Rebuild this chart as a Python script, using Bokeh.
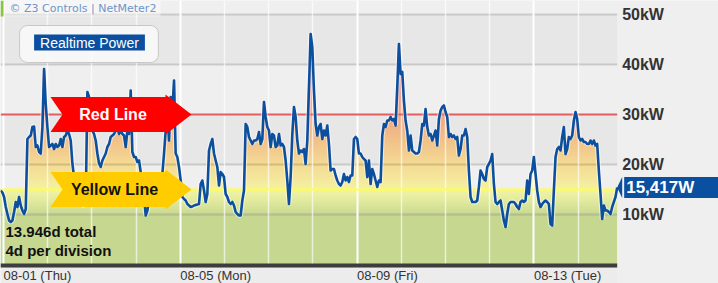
import numpy as np
from bokeh.plotting import figure
from bokeh.models import Range1d, Grid, FixedTicker
from bokeh.core.properties import value
from bokeh.embed import file_html
from bokeh.resources import INLINE

# ---------------- data ----------------
POWER_KW = [
    14.8, 14.4, 13.5, 11.5, 10.1, 8.8, 8.5, 8.8, 10.5, 12.5,
    11.5, 13.5, 11.8, 10.8, 10.1, 11.1, 25.1, 25.5, 25.8, 27.5,
    27.6, 23.5, 23.8, 22.5, 22.2, 27.5, 39.1, 32.1, 27.5, 23.5,
    23.8, 24.1, 23.1, 24.1, 23.5, 23.8, 25.1, 23.5, 25.5, 25.8,
    26.8, 26.1, 24.8, 20.2, 17.5, 15.5, 14.0, 13.0, 12.2, 11.8,
    11.8, 12.5, 34.5, 33.5, 30.1, 26.8, 26.1, 24.8, 22.2, 20.2,
    19.5, 20.8, 21.5, 22.2, 23.5, 24.1, 25.5, 25.8, 26.1, 26.8,
    27.5, 26.1, 26.8, 26.1, 25.8, 23.5, 26.8, 26.1, 34.8, 22.5,
    21.5, 21.5, 20.5, 20.8, 18.5, 16.1, 13.5, 9.8, 10.8, 12.8,
    14.2, 15.1, 15.8, 15.1, 15.5, 16.1, 16.8, 18.1, 22.2, 26.8,
    30.8, 24.8, 33.5, 30.8, 36.8, 22.2, 21.5, 19.5, 16.8, 13.5,
    13.1, 12.8, 12.1, 11.8, 11.5, 11.6, 11.8, 11.9, 12.0, 12.1,
    16.1, 16.8, 14.8, 12.5, 14.1, 22.8, 24.1, 25.1, 22.2, 20.8,
    19.5, 15.8, 18.5, 18.1, 17.5, 14.1, 13.5, 12.5, 12.1, 12.5,
    11.8, 10.5, 10.1, 9.8, 9.8, 12.8, 14.8, 28.1, 27.5, 25.5,
    24.8, 24.1, 24.8, 24.8, 25.1, 26.5, 24.1, 25.1, 32.5, 29.5,
    27.5, 26.8, 23.5, 26.1, 25.8, 23.5, 23.8, 26.1, 23.8, 24.1,
    23.5, 20.8, 16.8, 12.1, 17.5, 26.1, 31.5, 29.5, 24.8, 22.2,
    22.8, 22.5, 23.1, 20.1, 24.8, 35.5, 46.1, 43.5, 34.8, 28.1,
    25.8, 27.5, 28.1, 25.1, 26.8, 25.8, 27.8, 24.1, 18.8, 19.1,
    19.1, 17.8, 16.8, 16.1, 15.8, 16.5, 18.1, 16.8, 17.5, 16.5,
    17.8, 17.8, 25.1, 25.5, 25.1, 22.2, 22.2, 21.5, 21.1, 20.8,
    17.5, 20.8, 16.1, 19.1, 18.1, 16.8, 15.5, 16.8, 16.5, 25.8,
    28.1, 27.5, 28.8, 28.8, 29.5, 28.8, 29.1, 27.8, 35.5, 44.1,
    38.1, 38.5, 32.8, 28.8, 26.8, 22.8, 25.8, 22.8, 22.5, 22.2,
    22.2, 22.5, 24.8, 28.1, 27.8, 31.1, 27.5, 25.8, 26.1, 24.8,
    25.8, 26.8, 23.8, 29.1, 30.8, 31.5, 31.8, 30.5, 29.5, 25.5,
    26.1, 25.5, 25.8, 25.1, 25.5, 21.8, 23.1, 25.8, 25.8, 27.1,
    25.5, 18.8, 13.5, 12.5, 12.5, 12.5, 12.8, 15.5, 18.8, 18.1,
    17.1, 16.8, 19.5, 20.1, 20.8, 22.1, 16.1, 12.5, 12.1, 12.5,
    12.8, 10.8, 8.8, 7.5, 10.1, 12.1, 12.5, 12.5, 12.5, 12.1,
    11.5, 11.1, 12.5, 12.8, 12.5, 12.8, 16.8, 14.1, 18.1, 18.8,
    21.5, 18.1, 14.8, 12.5, 11.5, 12.1, 12.5, 12.8, 12.5, 12.1,
    8.1, 7.8, 14.8, 21.5, 23.1, 23.5, 22.8, 25.5, 27.5, 22.1,
    23.1, 25.5, 25.1, 25.8, 28.8, 30.5, 29.1, 25.5, 24.8, 25.1,
    24.5, 24.5, 24.1, 24.1, 24.8, 24.1, 24.8, 23.8, 24.1, 18.8,
    14.1, 9.1, 11.8, 10.8, 10.8, 10.5, 10.1, 11.5, 12.5, 13.5,
    15.417,
]
TOTAL_DAYS = 13.946          # span of the series
START_DAY = -0.062           # days relative to 08-01 00:00
DAY_TICKS = [0, 4, 8, 12]
DAY_LABELS = ["08-01 (Thu)", "08-05 (Mon)", "08-09 (Fri)", "08-13 (Tue)"]
MINOR_DAYS = [1, 2, 3, 5, 6, 7, 9, 10, 11, 13]
KW_TICKS = [10, 20, 30, 40, 50]
KW_LABELS = ["10kW", "20kW", "30kW", "40kW", "50kW"]
RED_LEVEL = 30
YELLOW_LEVEL = 15
LEGEND_TEXT = "Realtime Power"
HEADER_TEXT = "\u00a9 Z3 Controls | NetMeter2"
INFO_LINES = ["13.946d total", "4d per division"]

# ---------------- geometry helpers ----------------
W, H = 718, 283
PX_PER_DAY = 44.2
PX_PER_KW = 5.0
X0 = -3 / PX_PER_DAY
Y_TOP = 52.8


def xd(px):
    return X0 + px / PX_PER_DAY


def yd(py):
    return Y_TOP - py / PX_PER_KW


def hexmix(c1, c2, f):
    a = [int(c1[i:i + 2], 16) for i in (1, 3, 5)]
    b = [int(c2[i:i + 2], 16) for i in (1, 3, 5)]
    return "#%02x%02x%02x" % tuple(round(a[k] + (b[k] - a[k]) * f) for k in range(3))


def grad(stops, val):
    if val <= stops[0][0]:
        return stops[0][1]
    for (l0, c0), (l1, c1) in zip(stops[:-1], stops[1:]):
        if val <= l1:
            return hexmix(c0, c1, (val - l0) / (l1 - l0))
    return stops[-1][1]


v = np.array(POWER_KW, dtype=float)
t = START_DAY + TOTAL_DAYS * np.arange(len(v)) / (len(v) - 1)
t0, t_end = t[0], t[-1]

p = figure(width=W, height=H, x_range=Range1d(xd(0), xd(W)), y_range=Range1d(yd(H), yd(0)),
           output_backend="svg", toolbar_location=None, x_axis_type=None, y_axis_type=None,
           min_border=0, title=None)
p.outline_line_color = None
p.background_fill_color = "#efefef"
p.border_fill_color = "#efefef"
p.min_border_left = p.min_border_right = p.min_border_top = p.min_border_bottom = 0

XL = xd(0)

# background bands
p.quad(left=XL, right=t_end, bottom=[15, 20, 30, 40, 50], top=[20, 30, 40, 50, Y_TOP],
       fill_color=["#efefef", "#e7e7e7", "#efefef", "#e7e7e7", "#efefef"], line_color=None, level="image")
p.quad(left=XL, right=t_end, bottom=-0.6, top=10, fill_color="#c6d78f", line_color=None, level="image")
bg_stops = [(10, "#c9d991"), (12.5, "#dfe89c"), (15, "#f3f3a6")]
for L in np.arange(10, 15, 0.25):
    p.quad(left=XL, right=t_end, bottom=L, top=15, fill_color=grad(bg_stops, L + 0.125),
           line_color=None, level="image")

# gradient fill under the power line
fill_stops = [(15, "#f4f1a3"), (20, "#f4da93"), (25, "#f1c089"), (30, "#efa584"),
              (36, "#ef8b80"), (44, "#ee7676")]
for L in np.arange(YELLOW_LEVEL, 47, 0.5):
    p.varea(x=t, y1=np.full(len(v), L), y2=np.maximum(v, L), fill_color=grad(fill_stops, L + 0.25),
            level="image")

# grid lines
hgrid = Grid(dimension=1, ticker=FixedTicker(ticks=[10, 20, 40, 50]),
             grid_line_color="black", grid_line_alpha=0.14, grid_line_width=2)
vgrid = Grid(dimension=0, ticker=FixedTicker(ticks=DAY_TICKS, minor_ticks=MINOR_DAYS),
             grid_line_color="white", grid_line_width=2,
             minor_grid_line_color="white", minor_grid_line_alpha=0.65, minor_grid_line_width=1.5)
p.add_layout(hgrid, "center")
p.add_layout(vgrid, "center")

# right panel, bottom bar and label strip
p.quad(left=t_end, right=xd(W), bottom=yd(H), top=yd(0), fill_color="#efefef", line_color=None)
p.quad(left=XL, right=t_end, bottom=yd(H), top=-0.6, fill_color="#ececec", line_color=None)
p.quad(left=XL, right=t_end, bottom=-0.6, top=0.2, fill_color="#3d3d3d", line_color=None)

# thresholds
p.segment(x0=[t0], x1=[t_end], y0=[RED_LEVEL], y1=[RED_LEVEL], line_color="#e35f5f", line_width=2)
p.segment(x0=[t0], x1=[t_end], y0=[YELLOW_LEVEL], y1=[YELLOW_LEVEL], line_color="#ffff4a", line_width=2)

# power line
p.line(t, v, line_color="white", line_width=5, line_alpha=0.5)
p.line(t, v, line_color="#0b4f9e", line_width=2.6, line_join="round")

# right-hand tick labels
p.text(x=[t_end] * len(KW_TICKS), y=KW_TICKS, text=KW_LABELS, x_offset=5,
       text_font=value("Liberation Sans"), text_font_size="16px", text_font_style="bold",
       text_color="#333333", text_align="left", text_baseline="middle")

# current value tag
last_label = f"{int(round(v[-1] * 1000)):,}W"
p.patch(x=[t_end, t_end + 5 / PX_PER_DAY, t_end + 5 / PX_PER_DAY],
        y=[v[-1], v[-1] + 10.5 / PX_PER_KW, v[-1] - 10.5 / PX_PER_KW],
        fill_color="#0a4fa0", line_color=None)
p.text(x=[t_end], y=[v[-1]], text=[last_label], x_offset=7,
       text_font=value("Liberation Sans"), text_font_size="17px", text_font_style="bold",
       text_color="white", text_align="left", text_baseline="middle",
       background_fill_color="#0a4fa0", padding=dict(left=2, right=30, top=1, bottom=1))

# date labels
p.text(x=DAY_TICKS, y=[yd(275)] * len(DAY_TICKS), text=DAY_LABELS,
       text_font=value("Liberation Sans"), text_font_size="13px",
       text_color="#333333", text_align="left", text_baseline="middle")

# arrows for thresholds
def arrow_xy(center):
    xs = [xd(50), xd(165), xd(165), xd(191), xd(165), xd(165), xd(50), xd(62)]
    ys = [center + 17.5 / PX_PER_KW, center + 17.5 / PX_PER_KW, center + 20 / PX_PER_KW, center,
          center - 20 / PX_PER_KW, center - 17.5 / PX_PER_KW, center - 17.5 / PX_PER_KW, center]
    return xs, ys


rx, ry = arrow_xy(RED_LEVEL)
p.patch(rx, ry, fill_color="#ff0000", line_color=None)
yx, yy = arrow_xy(YELLOW_LEVEL)
p.patch(yx, yy, fill_color="#ffcc00", line_color=None)
p.text(x=[xd(112.5)], y=[RED_LEVEL], text=["Red Line"], text_font=value("Liberation Sans"),
       text_font_size="16px", text_font_style="bold", text_color="white",
       text_align="center", text_baseline="middle")
p.text(x=[xd(114)], y=[YELLOW_LEVEL], text=["Yellow Line"], text_font=value("Liberation Sans"),
       text_font_size="16px", text_font_style="bold", text_color="#111111",
       text_align="center", text_baseline="middle")

# header
p.quad(left=xd(3), right=xd(160), bottom=yd(16), top=yd(0), fill_color="white", fill_alpha=0.45,
       line_color=None)
p.quad(left=xd(0), right=xd(3), bottom=yd(16), top=yd(0), fill_color="#8cc63e", line_color=None)
p.text(x=[xd(9)], y=[yd(8)], text=[HEADER_TEXT], text_font=value("DejaVu Sans"),
       text_font_size="11px", text_color="#6d95cb", text_align="left", text_baseline="middle")

# legend box
p.text(x=[xd(88.5)], y=[yd(43.5)], text=[LEGEND_TEXT], text_font=value("Liberation Sans"),
       text_font_size="14px", text_alpha=0, text_align="center", text_baseline="middle",
       background_fill_color="#f9f9f9", background_fill_alpha=0.92,
       border_line_color="#c8c8c8", border_line_width=1, border_radius=8,
       padding=dict(left=20, right=20, top=10, bottom=11))
p.text(x=[xd(89)], y=[yd(42)], text=[LEGEND_TEXT], text_font=value("Liberation Sans"),
       text_font_size="14px", text_color="white", text_align="center", text_baseline="middle",
       background_fill_color="#0a4fa0", padding=dict(left=6, right=6, top=0, bottom=0))

# info text
p.text(x=[xd(5), xd(5)], y=[yd(231), yd(250)], text=INFO_LINES, text_font=value("Liberation Sans"),
       text_font_size="15px", text_font_style="bold", text_color="#111111",
       text_align="left", text_baseline="middle")

open("out.html", "w").write(file_html(p, INLINE))
